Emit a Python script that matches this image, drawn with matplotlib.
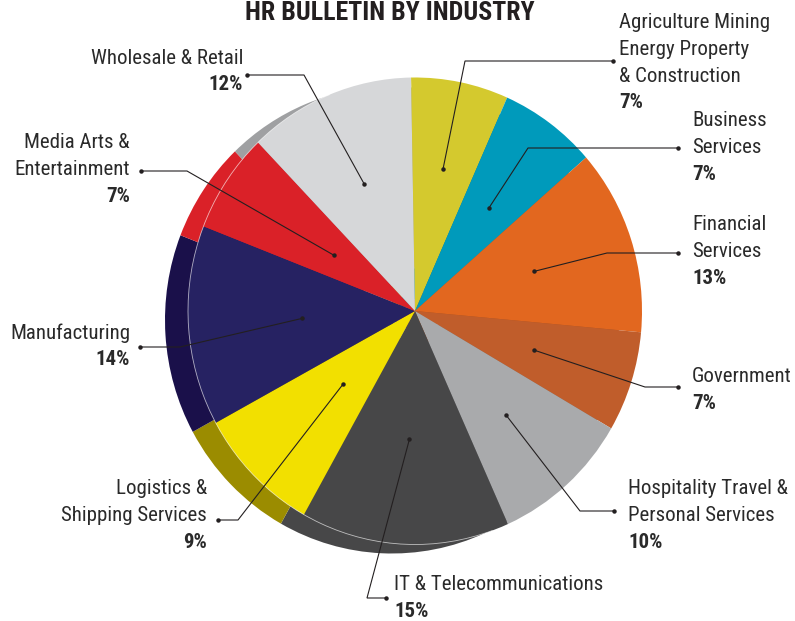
import matplotlib
matplotlib.use("Agg")
import matplotlib.pyplot as plt
from matplotlib import font_manager
from matplotlib.transforms import Affine2D
from matplotlib.patches import Arc
import numpy as np

# ---------------- data ----------------
categories = ["Agriculture Mining\nEnergy Property\n& Construction",
              "Business\nServices",
              "Financial\nServices",
              "Government",
              "Hospitality Travel &\nPersonal Services",
              "IT & Telecommunications",
              "Logistics &\nShipping Services",
              "Manufacturing",
              "Media Arts &\nEntertainment",
              "Wholesale & Retail"]
values = [7, 7, 13, 7, 10, 15, 9, 14, 7, 12]
pct_labels = ["7%", "7%", "13%", "7%", "10%", "15%", "9%", "14%", "7%", "12%"]
front_colors = ["#d4c92e", "#009abb", "#e2671f", "#c05d2b", "#a9aaac",
                "#474748", "#f2e000", "#262262", "#da2128", "#d6d7d9"]
shadow_colors = ["#a89f20", "#007a94", "#b3521a", "#984a22", "#8a8b8d",
                 "#474748", "#9b8c00", "#1a104a", "#da2128", "#9fa0a2"]
title = "HR BULLETIN BY INDUSTRY"

# ---------------- fonts ----------------
names = {f.name for f in font_manager.fontManager.ttflist}
if "Roboto Condensed" in names:
    FAM = ["Roboto Condensed", "DejaVu Sans"]
    FS, TFS = 15, 18.6
elif "Liberation Sans Narrow" in names:
    FAM = ["Liberation Sans Narrow", "DejaVu Sans"]
    FS, TFS = 15, 17
else:
    FAM = ["Roboto", "DejaVu Sans"]
    FS, TFS = 13.6, 16.4
TXT = "#2a2a2a"

W, H = 795, 621
fig = plt.figure(figsize=(W / 100, H / 100), dpi=100)
ax = fig.add_axes([0, 0, 1, 1])

def P(x, y):
    return (x, H - y)

cx, cy = P(415, 311)
R = 227
SY = 233.5 / 227
sdx, sdy = -23, -9   # shadow offset (y-up)

def ell(cxx, cyy):
    return Affine2D().translate(-cxx, -cyy).scale(1, SY).translate(cxx, cyy) + ax.transData

# shadow pie
sw, _ = ax.pie(values, colors=shadow_colors, startangle=91, counterclock=False,
               radius=R, center=(cx + sdx, cy + sdy), frame=True,
               wedgeprops=dict(linewidth=0))
for w in sw:
    w.set_transform(ell(cx + sdx, cy + sdy))
    w.set_zorder(1)

# front pie
fw, _ = ax.pie(values, colors=front_colors, startangle=91, counterclock=False,
               radius=R, center=(cx, cy), frame=True,
               wedgeprops=dict(linewidth=0))
for w in fw:
    w.set_transform(ell(cx, cy))
    w.set_zorder(2)

# light rim line over the shadow band
rim = Arc((cx, cy), 2 * R, 2 * R, theta1=112, theta2=290,
          color="white", lw=0.6, alpha=0.65, zorder=3)
rim.set_transform(ell(cx, cy))
ax.add_patch(rim)

ax.set_xlim(0, W)
ax.set_ylim(0, H)
ax.set_aspect("auto")
ax.axis("off")

# ---------------- labels & leaders ----------------
# (dot radius fraction, elbow point, outer dot point, text x, first line y, ha)
layout = [
    (0.62, (465, 61), (613, 61), 619, 23, "left"),
    (0.55, (528, 148), (678, 148), 692, 121, "left"),
    (0.55, (607, 253), (678, 253), 692, 225, "left"),
    (0.55, (645, 387), (678, 387), 692, 377, "left"),
    (0.60, (580, 511), (614, 511), 628, 489, "left"),
    (0.55, (367, 598), (386, 598), 394, 585, "left"),
    (0.445, (238, 520), (218, 520), 207, 489, "right"),
    (0.50, (180, 347), (140, 347), 130, 333, "right"),
    (0.43, (187, 171), (141, 171), 130, 143, "right"),
    (0.59, (304, 75), (247, 75), 243, 58, "right"),
]
LS = 26.6

for w, cat, pct, (rf, elbow, outer, tx, ty, ha) in zip(fw, categories, pct_labels, layout):
    mid = np.deg2rad((w.theta1 + w.theta2) / 2)
    inner = (cx + rf * R * np.cos(mid), cy + rf * R * SY * np.sin(mid))
    e = P(*elbow)
    o = P(*outer)
    ax.plot([inner[0], e[0], o[0]], [inner[1], e[1], o[1]], color="#231f20",
            lw=0.8, zorder=5, solid_joinstyle="miter")
    ax.plot([inner[0], o[0]], [inner[1], o[1]], "o", color="#231f20",
            ms=2.2, zorder=6, linestyle="none")
    lines = cat.split("\n")
    for i, ln in enumerate(lines):
        ax.text(*P(tx, ty + i * LS), ln, ha=ha, va="center", fontsize=FS,
                color=TXT, family=FAM, zorder=7)
    ax.text(*P(tx, ty + len(lines) * LS), pct, ha=ha, va="center", fontsize=FS,
            color=TXT, family=FAM, fontweight="bold", zorder=7)

ax.text(*P(390, 20), title, ha="center", va="baseline", fontsize=TFS,
        fontweight="bold", color="#231f20", family=FAM, zorder=7)

fig.savefig("out.png", dpi=100)
